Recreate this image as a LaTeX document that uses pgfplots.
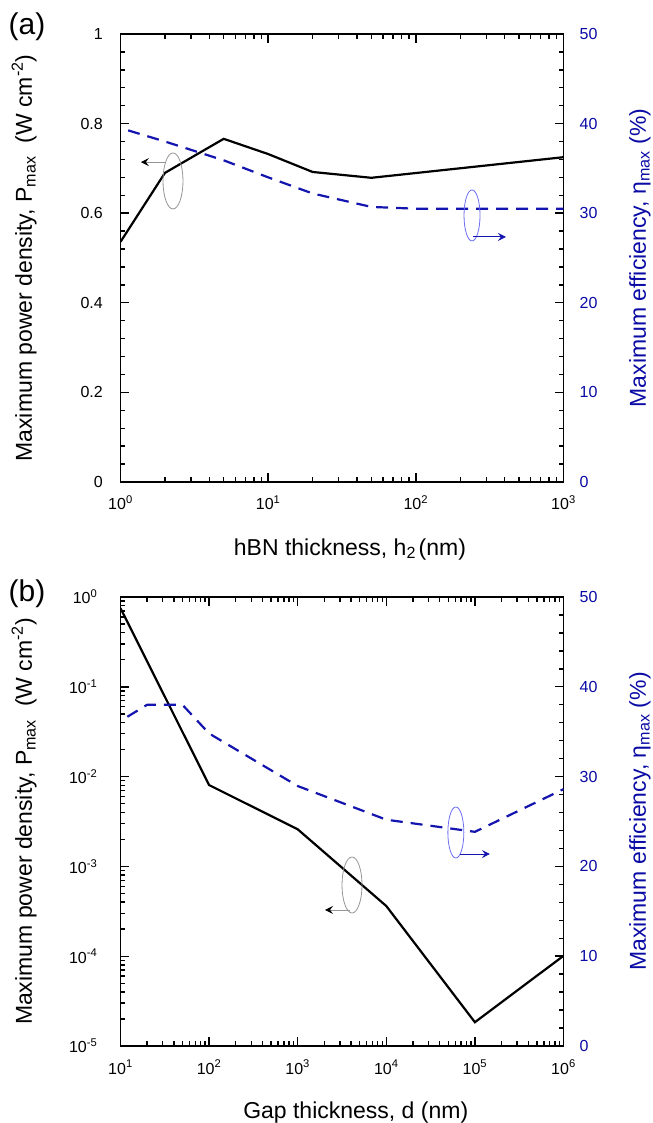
\documentclass[border=0pt]{standalone}
\usepackage{fontspec}
\setmainfont{Liberation Sans}
\usepackage{pgfplots}
\pgfplotsset{compat=1.18}
\usetikzlibrary{arrows.meta}
\definecolor{effblue}{RGB}{10,10,165}
\definecolor{dashblue}{RGB}{20,20,175}
\definecolor{ellblue}{RGB}{110,110,245}
\definecolor{ellgray}{RGB}{150,150,150}

\pgfplotsset{
  common/.style={
    scale only axis, width=443bp,
    tick align=inside, major tick length=9bp, minor tick length=5bp,
    axis line style={line width=1.6bp},
    tick style={black, line width=1.4bp},
    tick label style={font=\fontsize{16bp}{19bp}\selectfont},
    label style={font=\fontsize{23bp}{27bp}\selectfont},
  },
  pline/.style={black, line width=2.2bp, line join=miter},
  eline/.style={dashblue, line width=2.2bp, dash pattern=on 12bp off 8bp, dash phase=12bp},
}

\begin{document}
\begin{tikzpicture}
\useasboundingbox (0,0) rectangle (653bp,1123bp);

% ---------------- (a) ----------------
\begin{axis}[common,
  at={(120.5bp,641bp)}, anchor=south west, height=448bp,
  xmode=log, xmin=1, xmax=1000,
  xtick={1,10,100,1000},
  xticklabels={10\textsuperscript{0},10\textsuperscript{1},10\textsuperscript{2},10\textsuperscript{3}},
  minor xtick={2,3,4,5,6,7,8,9,20,30,40,50,60,70,80,90,200,300,400,500,600,700,800,900},
  xticklabel style={anchor=base, inner sep=0pt, yshift=-28bp},
  ymin=0, ymax=1,
  ytick={0,0.2,0.4,0.6,0.8,1},
  yticklabels={0,0.2,0.4,0.6,0.8,1},
  minor y tick num=4,
  ytick pos=left,
  yticklabel style={anchor=east, inner sep=0pt, xshift=-17.5bp},
  xlabel={hBN thickness, h\textsubscript{2}\hspace{0.12em}(nm)},
  xlabel style={at={(axis description cs:0.518,-0.163)}, anchor=base},
  ylabel={Maximum power density, P\textsubscript{max}~ (W cm\textsuperscript{-2})},
  ylabel style={at={(axis description cs:-0.1998,0.5)}, anchor=base},
]
\addplot[pline] coordinates {
  (1,0.536) (2,0.690) (5,0.766) (10,0.732) (20,0.692) (50,0.679) (1000,0.725)
};
\draw[ellgray, line width=0.8bp] (rel axis cs:0.1185,0.672) ellipse [x radius=10bp, y radius=28bp];
\draw[ellgray, line width=0.9bp, -{Stealth[color=black, length=8bp, width=8bp, inset=3bp]}]
  (rel axis cs:0.100,0.714) -- (rel axis cs:0.046,0.714);
\end{axis}

\begin{axis}[common,
  at={(120.5bp,641bp)}, anchor=south west, height=448bp,
  xmode=log, xmin=1, xmax=1000,
  axis x line=none, axis y line*=right, y axis line style={-},
  ymin=0, ymax=50,
  ytick={0,10,20,30,40,50},
  yticklabels={0,10,20,30,40,50},
  minor y tick num=4,
  ytick pos=right, yticklabel pos=right,
  yticklabel style={anchor=west, inner sep=0pt, xshift=16bp, text=effblue},
  ylabel={Maximum efficiency, η\textsubscript{max} (\%)},
  ylabel style={at={(axis description cs:1.1862,0.5)}, anchor=base, text=effblue},
]
\addplot[eline] coordinates {
  (1,39.5) (2,38.0) (5,35.9) (10,34.0) (20,32.2) (50,30.7) (100,30.5) (1000,30.5)
};
\draw[ellblue, line width=0.8bp] (rel axis cs:0.7935,0.595) ellipse [x radius=8bp, y radius=25.5bp];
\draw[dashblue, line width=0.9bp, -{Stealth[length=8bp, width=8bp, inset=3bp]}]
  (rel axis cs:0.7957,0.547) -- (rel axis cs:0.870,0.547);
\end{axis}

% ---------------- (b) ----------------
\begin{axis}[common,
  at={(120.5bp,77bp)}, anchor=south west, height=449bp,
  xmode=log, xmin=10, xmax=1e6,
  xtick={10,100,1000,10000,100000,1000000},
  xticklabels={10\textsuperscript{1},10\textsuperscript{2},10\textsuperscript{3},10\textsuperscript{4},10\textsuperscript{5},10\textsuperscript{6}},
  minor xtick={20,30,40,50,60,70,80,90,200,300,400,500,600,700,800,900,2000,3000,4000,5000,6000,7000,8000,9000,20000,30000,40000,50000,60000,70000,80000,90000,200000,300000,400000,500000,600000,700000,800000,900000},
  xticklabel style={anchor=base, inner sep=0pt, yshift=-28bp},
  ymode=log, ymin=1e-5, ymax=1,
  ytick={1e-5,1e-4,1e-3,1e-2,1e-1,1},
  yticklabels={10\textsuperscript{-5},10\textsuperscript{-4},10\textsuperscript{-3},10\textsuperscript{-2},10\textsuperscript{-1},10\textsuperscript{0}},
  minor ytick={2e-5,3e-5,4e-5,5e-5,6e-5,7e-5,8e-5,9e-5,2e-4,3e-4,4e-4,5e-4,6e-4,7e-4,8e-4,9e-4,2e-3,3e-3,4e-3,5e-3,6e-3,7e-3,8e-3,9e-3,0.02,0.03,0.04,0.05,0.06,0.07,0.08,0.09,0.2,0.3,0.4,0.5,0.6,0.7,0.8,0.9},
  ytick pos=left,
  yticklabel style={anchor=east, inner sep=0pt, xshift=-23bp},
  xlabel={Gap thickness, d (nm)},
  xlabel style={at={(axis description cs:0.531,-0.1604)}, anchor=base},
  ylabel={Maximum power density, P\textsubscript{max}~ (W cm\textsuperscript{-2})},
  ylabel style={at={(axis description cs:-0.1998,0.5)}, anchor=base},
]
\addplot[pline] coordinates {
  (10,0.75) (100,0.00805) (1000,0.00259) (10000,3.62e-4) (100000,1.84e-5) (1000000,1.01e-4)
};
\draw[ellgray, line width=0.8bp] (rel axis cs:0.5226,0.3586) ellipse [x radius=10bp, y radius=28bp];
\draw[ellgray, line width=0.9bp, -{Stealth[color=black, length=8bp, width=8bp, inset=3bp]}]
  (rel axis cs:0.518,0.303) -- (rel axis cs:0.4616,0.303);
\end{axis}

\begin{axis}[common,
  at={(120.5bp,77bp)}, anchor=south west, height=449bp,
  xmode=log, xmin=10, xmax=1e6,
  axis x line=none, axis y line*=right, y axis line style={-},
  ymin=0, ymax=50,
  ytick={0,10,20,30,40,50},
  yticklabels={0,10,20,30,40,50},
  minor y tick num=4,
  ytick pos=right, yticklabel pos=right,
  yticklabel style={anchor=west, inner sep=0pt, xshift=16bp, text=effblue},
  ylabel={Maximum efficiency, η\textsubscript{max} (\%)},
  ylabel style={at={(axis description cs:1.1862,0.5)}, anchor=base, text=effblue},
]
\addplot[eline] coordinates {
  (10,36.2) (20,38.0) (50,38.0) (100,34.8) (1000,28.95) (10000,25.2) (100000,23.85) (1000000,28.6)
};
\draw[ellblue, line width=0.8bp] (rel axis cs:0.757,0.4755) ellipse [x radius=8bp, y radius=25.5bp];
\draw[dashblue, line width=0.9bp, -{Stealth[length=8bp, width=8bp, inset=3bp]}]
  (rel axis cs:0.766,0.4276) -- (rel axis cs:0.834,0.4276);
\end{axis}

\node[anchor=base, font=\fontsize{30bp}{34bp}\selectfont] at (27bp,1088bp) {(a)};
\node[anchor=base, font=\fontsize{30bp}{34bp}\selectfont] at (27bp,521bp) {(b)};
\end{tikzpicture}
\end{document}
